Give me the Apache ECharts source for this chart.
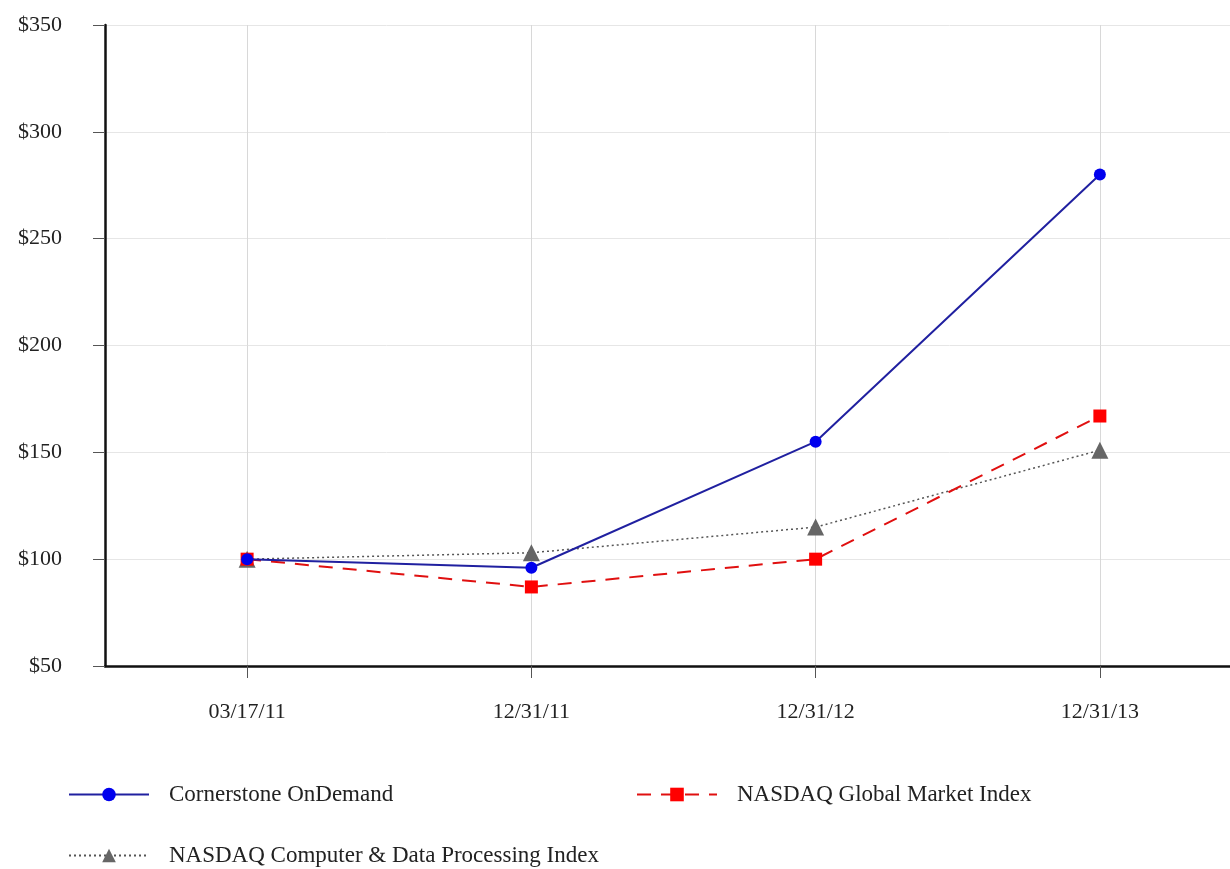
<!DOCTYPE html>
<html>
<head>
<meta charset="utf-8">
<script src="https://cdn.jsdelivr.net/npm/echarts@6/dist/echarts.min.js"></script>
<style>
  html, body { margin: 0; padding: 0; background: #fff; }
  #chart { width: 1230px; height: 869px; }
</style>
</head>
<body>
<div id="chart"></div>
<script>
// categories and values
var dates = ['03/17/11', '12/31/11', '12/31/12', '12/31/13'];
var cornerstone = [100, 96, 155, 280];
var nasdaqGlobal = [100, 87, 100, 167];
var nasdaqComputer = [100, 103, 115, 151];
var yTicks = { min: 50, max: 350, step: 50 };

var serif = '"Liberation Serif", "DejaVu Serif", serif';

var chart = echarts.init(document.getElementById('chart'));

function legendAt(name, left, top) {
	return {
		data: [name],
		left: left,
		top: top,
		padding: 0,
		itemWidth: 80,
		itemHeight: 17,
		textStyle: { fontFamily: serif, fontSize: 23, color: '#222', padding: [0, 0, 0, 15] }
	};
}

chart.setOption({
	animation: false,
	backgroundColor: '#fff',
	grid: {
		left: 105,
		width: 1137,
		top: 25,
		height: 641,
		outerBoundsMode: 'none',
		containLabel: false
	},
	legend: [
		legendAt('Cornerstone OnDemand', 68, 783),
		legendAt('NASDAQ Global Market Index', 636, 783),
		legendAt('NASDAQ Computer & Data Processing Index', 68, 844)
	],
	xAxis: {
		type: 'category',
		data: dates,
		boundaryGap: true,
		axisLine: { lineStyle: { color: '#111', width: 2.5 } },
		axisTick: { show: true, alignWithLabel: true, length: 12, lineStyle: { color: '#555' } },
		axisLabel: { margin: 35, fontFamily: serif, fontSize: 22, color: '#222' },
		splitLine: { show: true, alignWithLabel: true, lineStyle: { color: '#d8d8d8', width: 1 } }
	},
	yAxis: {
		type: 'value',
		min: yTicks.min,
		max: yTicks.max,
		interval: yTicks.step,
		axisLine: { show: true, lineStyle: { color: '#111', width: 2.5 } },
		axisTick: { show: true, length: 12, lineStyle: { color: '#555' } },
		axisLabel: {
			margin: 43,
			fontFamily: serif,
			fontSize: 22,
			color: '#222',
			formatter: function (v) { return '$' + v; }
		},
		splitLine: { lineStyle: { color: '#e6e6e6', width: 1 } }
	},
	series: [
		{
			name: 'NASDAQ Computer & Data Processing Index',
			type: 'line',
			data: nasdaqComputer,
			symbol: 'triangle',
			symbolSize: 17,
			itemStyle: { color: '#666' },
			lineStyle: { color: '#555', width: 1.5, type: [2, 3] },
			z: 2
		},
		{
			name: 'NASDAQ Global Market Index',
			type: 'line',
			data: nasdaqGlobal,
			symbol: 'rect',
			symbolSize: 13,
			itemStyle: { color: '#f00' },
			lineStyle: { color: '#e01010', width: 2, type: [14, 10] },
			z: 3
		},
		{
			name: 'Cornerstone OnDemand',
			type: 'line',
			data: cornerstone,
			symbol: 'circle',
			symbolSize: 12,
			itemStyle: { color: '#0000ee' },
			lineStyle: { color: '#2020a0', width: 2 },
			z: 4
		}
	]
});
</script>
</body>
</html>
